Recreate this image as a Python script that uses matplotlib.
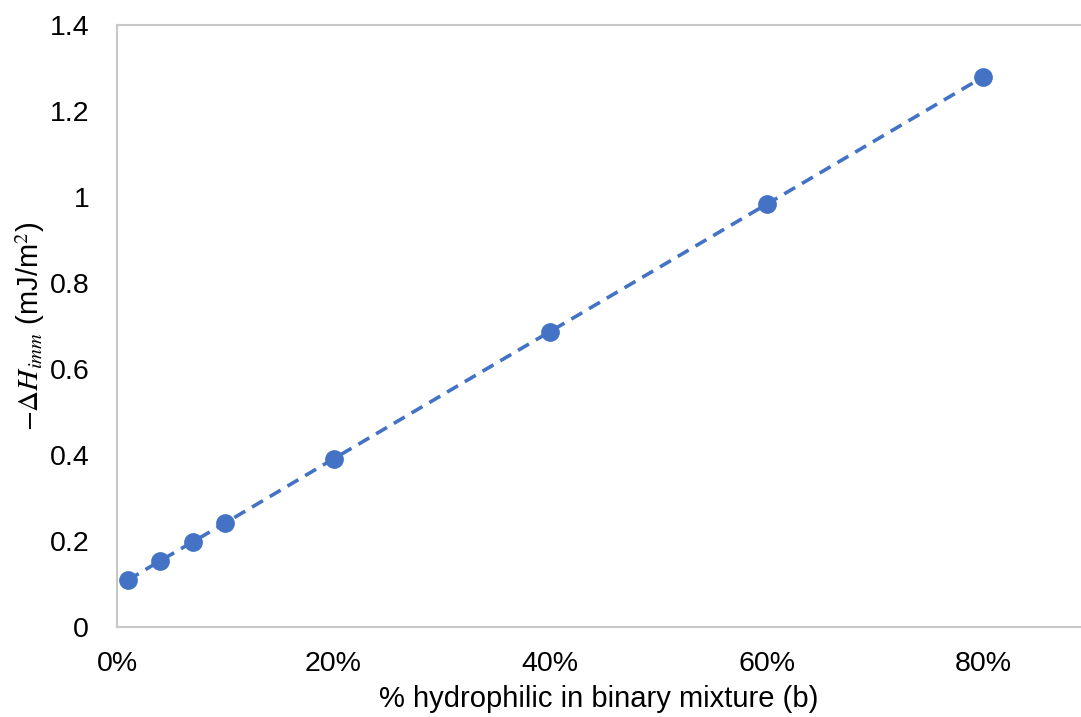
import matplotlib
matplotlib.use('Agg')
import matplotlib.pyplot as plt
from matplotlib.ticker import PercentFormatter, FuncFormatter

plt.rcParams['font.family'] = ['Liberation Sans', 'DejaVu Sans']
plt.rcParams['mathtext.fontset'] = 'stix'

# fraction of hydrophilic component and immersion enthalpy
frac = [0.01, 0.04, 0.07, 0.10, 0.20, 0.40, 0.60, 0.80]
dh = [0.109, 0.154, 0.198, 0.242, 0.391, 0.687, 0.983, 1.279]

fig = plt.figure(figsize=(10.81, 7.17), dpi=100)
ax = fig.add_axes([117 / 1081, 90 / 717, 1 - 117 / 1081, 602 / 717])

ax.plot(frac, dh, color='#4472C4', linestyle=(0, (3.5, 2.2)), linewidth=2.6,
        marker='o', markersize=13.5, markeredgewidth=0)

ax.set_xlim(0, 0.8905)
ax.set_ylim(0, 1.4)
ax.set_xticks([0, 0.2, 0.4, 0.6, 0.8])
ax.set_yticks([0, 0.2, 0.4, 0.6, 0.8, 1.0, 1.2, 1.4])
ax.xaxis.set_major_formatter(PercentFormatter(1.0, decimals=0))
ax.yaxis.set_major_formatter(FuncFormatter(lambda v, p: f'{v:g}'))

for s in ['top', 'left', 'bottom']:
    ax.spines[s].set_color('#c8c8c8')
    ax.spines[s].set_linewidth(1.5)
ax.spines['right'].set_visible(False)
ax.tick_params(length=0, labelsize=20.5)
ax.tick_params(axis='x', pad=17)
ax.tick_params(axis='y', pad=20)

ax.set_xlabel('% hydrophilic in binary mixture (b)', fontsize=21, labelpad=6)
ax.set_ylabel(r'$-\Delta H_{imm}$ (mJ/m$^2$)', fontsize=21, labelpad=2)

plt.savefig('out.png', dpi=100)
